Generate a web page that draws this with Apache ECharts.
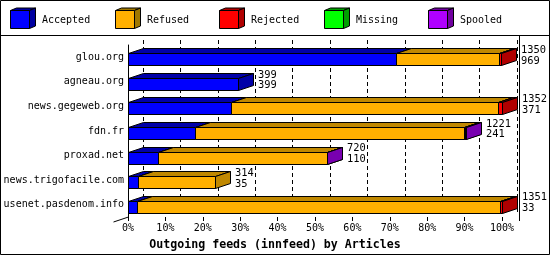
<!DOCTYPE html>
<html><head><meta charset="utf-8">
<script src="https://cdn.jsdelivr.net/npm/echarts@6/dist/echarts.min.js"></script>
<style>html,body{margin:0;padding:0;background:#fff}#c{width:550px;height:255px}</style>
</head><body><div id="c"></div>
<script>
const categories = ['glou.org','agneau.org','news.gegeweb.org','fdn.fr','proxad.net','news.trigofacile.com','usenet.pasdenom.info'];
const accepted = [969,399,371,241,110,35,33];
const refused  = [373,0,968,972,608,279,1310];
const rejected = [8,0,13,6,0,0,8];
const missing  = [0,0,0,0,0,0,0];
const spooled  = [0,0,0,2,2,0,0];
const offered  = [1350,399,1352,1221,720,314,1351];
const seriesNames = ['Accepted','Refused','Rejected','Missing','Spooled'];
const tickValues = [0,10,20,30,40,50,60,70,80,90,100];
const titleText = 'Outgoing feeds (innfeed) by Articles';

const frontColors = ['#0000ff','#ffb000','#ff0000','#00ff00','#b000ff'];
const darkColors  = ['#0000a8','#c08800','#b00000','#00a800','#7800b0'];
const legendDark  = ['#0000a0','#a07800','#b00000','#00a000','#7000a0'];
const FONT = 'DejaVu Sans Mono';
const DX = 15, DY = 5, FH = 12;

const allSeries = [accepted, refused, rejected, missing, spooled];
const maxTotal = Math.max.apply(null, offered);
const pct = v => v / maxTotal * 100;

const chart = echarts.init(document.getElementById('c'), null, {renderer:'canvas'});

function makeRender(si){
  return function(params, api){
    const s = api.value(0), e = api.value(1), cat = api.value(2);
    if (!(e - s > 0)) return;
    const p0 = api.coord([s, cat]), p1 = api.coord([e, cat]);
    const x0 = Math.round(p0[0]) + 0.5, x1 = Math.round(p1[0]) + 0.5;
    const ft = Math.round(p0[1] - 4) + 0.5, fb = ft + FH;
    const st = {stroke:'#000', lineWidth:1};
    return {type:'group', children:[
      {type:'polygon', shape:{points:[[x0,ft],[x1,ft],[x1+DX,ft-DY],[x0+DX,ft-DY]]}, style:Object.assign({fill:darkColors[si]}, st)},
      {type:'rect', shape:{x:x0, y:ft, width:x1-x0, height:FH}, style:Object.assign({fill:frontColors[si]}, st)},
      {type:'polygon', shape:{points:[[x1,ft],[x1+DX,ft-DY],[x1+DX,fb-DY],[x1,fb]]}, style:Object.assign({fill:darkColors[si]}, st)}
    ]};
  };
}

const series = [];
allSeries.forEach((arr, si) => {
  const data = categories.map((c, i) => {
    let start = 0;
    for (let k = 0; k < si; k++) start += allSeries[k][i];
    return [pct(start), pct(start + arr[i]), i];
  });
  series.push({type:'custom', name:seriesNames[si], xAxisIndex:0, yAxisIndex:0,
    renderItem:makeRender(si), data:data, encode:{x:[0,1], y:2}, silent:true, animation:false});
});

series.push({type:'custom', name:'labels', xAxisIndex:0, yAxisIndex:0, silent:true, animation:false,
  data: categories.map((c,i)=>[pct(offered[i]), i, offered[i], accepted[i]]),
  encode:{x:0, y:1},
  renderItem:function(params, api){
    const p = api.coord([api.value(0), api.value(1)]);
    const x = Math.round(p[0]) + DX + 5;
    const mk = (t, y) => ({type:'text', style:{text:String(t), x:x, y:y, fill:'#000',
      font:'10.4px "'+FONT+'"', textAlign:'left', textVerticalAlign:'middle', align:'left', verticalAlign:'middle'}});
    return {type:'group', children:[mk(api.value(2), p[1]-7), mk(api.value(3), p[1]+3.7)]};
  }
});

const legendGraphics = [];
seriesNames.forEach((n, i) => {
  const x0 = 10.5 + Math.round(i*104.5), t = 10.5, h = 18, w = 19, dx = 6, dy = 2.5;
  legendGraphics.push({type:'polygon', shape:{points:[[x0,t],[x0+dx,t-dy],[x0+w+dx,t-dy],[x0+w,t]]}, style:{fill:legendDark[i], stroke:'#000', lineWidth:1}});
  legendGraphics.push({type:'polygon', shape:{points:[[x0+w,t],[x0+w+dx,t-dy],[x0+w+dx,t+h-dy],[x0+w,t+h]]}, style:{fill:legendDark[i], stroke:'#000', lineWidth:1}});
  legendGraphics.push({type:'rect', shape:{x:x0, y:t, width:w, height:h}, style:{fill:frontColors[i], stroke:'#000', lineWidth:1}});
  legendGraphics.push({type:'text', style:{text:n, x:x0+31.5, y:20, fill:'#000', font:'10px "'+FONT+'"', textVerticalAlign:'middle', verticalAlign:'middle'}});
});

chart.setOption({
  animation:false,
  backgroundColor:'#fff',
  title:{text:titleText, left:'center', top:234, textStyle:{fontFamily:FONT, fontWeight:'bold', fontSize:11.6, color:'#000'}},
  grid:[
    {left:128, right:48, top:45, bottom:38},
    {left:143, right:33, top:40, bottom:43}
  ],
  xAxis:[
    {gridIndex:0, type:'value', min:0, max:100, interval:10,
      axisLine:{show:false}, splitLine:{show:false},
      axisTick:{show:true, length:4, lineStyle:{color:'#000'}},
      axisLabel:{formatter:'{value}%', margin:6, color:'#000', fontFamily:FONT, fontSize:10}},
    {gridIndex:1, type:'value', min:0, max:100, interval:10,
      axisLine:{show:false}, axisTick:{show:false}, axisLabel:{show:false},
      splitLine:{show:true, lineStyle:{color:'#000', type:[4,3], width:1}}}
  ],
  yAxis:[
    {gridIndex:0, type:'category', data:categories, inverse:true,
      axisLine:{show:true, lineStyle:{color:'#000'}}, axisTick:{show:false},
      axisLabel:{margin:4, color:'#000', fontFamily:FONT, fontSize:10}},
    {gridIndex:1, type:'category', data:categories, inverse:true, show:false}
  ],
  series:series,
  graphic:[
    {type:'rect', shape:{x:0.5, y:0.5, width:549, height:254}, style:{fill:'none', stroke:'#000', lineWidth:1}, z:-1},
    {type:'line', shape:{x1:0, y1:35.5, x2:550, y2:35.5}, style:{stroke:'#000', lineWidth:1}},
    {type:'line', shape:{x1:519.5, y1:35, x2:519.5, y2:221}, style:{stroke:'#000', lineWidth:1}},
    {type:'line', shape:{x1:128.5, y1:217, x2:113.5, y2:222}, style:{stroke:'#000', lineWidth:1}}
  ].concat(legendGraphics)
});
</script>
</body></html>
